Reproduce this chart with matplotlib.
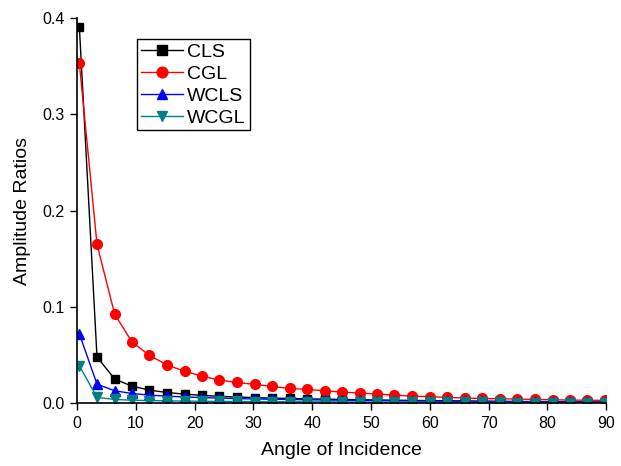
import matplotlib.pyplot as plt

plt.rcParams['font.family'] = ['Liberation Sans', 'DejaVu Sans']

# angle of incidence (deg)
angle = [0.4, 3.4, 6.4, 9.3, 12.3, 15.3, 18.3, 21.3, 24.2, 27.2,
         30.2, 33.2, 36.2, 39.1, 42.1, 45.1, 48.1, 51.1, 54.0, 57.0,
         60.0, 63.0, 66.0, 68.9, 71.9, 74.9, 77.9, 80.9, 83.8, 86.8, 89.8]

cls = [0.391, 0.048, 0.025, 0.0177, 0.0135, 0.011, 0.0093, 0.008, 0.007, 0.0063,
       0.0057, 0.0052, 0.0048, 0.0044, 0.0041, 0.0038, 0.0035, 0.0032, 0.003, 0.0028,
       0.0026, 0.0024, 0.0022, 0.002, 0.0019, 0.0017, 0.0016, 0.0015, 0.0013, 0.0012, 0.0011]
cgl = [0.353, 0.165, 0.0925, 0.064, 0.0495, 0.0398, 0.033, 0.028, 0.0239, 0.0215,
       0.0194, 0.0173, 0.0152, 0.0142, 0.0128, 0.0114, 0.0104, 0.0094, 0.0083, 0.0073,
       0.0066, 0.0059, 0.0052, 0.0048, 0.0045, 0.0042, 0.0038, 0.0035, 0.0031, 0.003, 0.0028]
wcls = [0.072, 0.0197, 0.0128, 0.010, 0.0083, 0.0072, 0.0064, 0.0057, 0.0052, 0.0047,
        0.0043, 0.004, 0.0037, 0.0034, 0.0032, 0.003, 0.0028, 0.0026, 0.0024, 0.0022,
        0.0021, 0.0019, 0.0018, 0.0017, 0.0015, 0.0014, 0.0013, 0.0012, 0.0011, 0.001, 0.0009]
wcgl = [0.0388, 0.0059, 0.0038, 0.003, 0.0026, 0.0023, 0.0021, 0.0019, 0.0018, 0.0017,
        0.0016, 0.0015, 0.0014, 0.0013, 0.0012, 0.0012, 0.0011, 0.001, 0.001, 0.0009,
        0.0009, 0.0008, 0.0008, 0.0007, 0.0007, 0.0006, 0.0006, 0.0005, 0.0005, 0.0005, 0.0004]

fig = plt.figure(figsize=(6.21, 4.66), dpi=100)
ax = fig.add_axes([0.124, 0.135, 0.852, 0.826])

ax.plot(angle, cls, color='black', marker='s', markersize=6, lw=1, label='CLS')
ax.plot(angle, cgl, color='red', marker='o', markersize=7, lw=1, label='CGL')
ax.plot(angle, wcls, color='blue', marker='^', markersize=7, lw=1, label='WCLS')
ax.plot(angle, wcgl, color='#008080', marker='v', markersize=7, lw=1, label='WCGL')

ax.set_xlim(0, 90)
ax.set_ylim(0, 0.4)
ax.set_xticks(range(0, 91, 10))
ax.set_yticks([0.0, 0.1, 0.2, 0.3, 0.4])
ax.set_yticklabels(['0.0', '0.1', '0.2', '0.3', '0.4'])
ax.tick_params(direction='out', length=5, width=1, labelsize=11.5, pad=4)
for s in ['top', 'right']:
    ax.spines[s].set_visible(False)
for s in ['left', 'bottom']:
    ax.spines[s].set_linewidth(1.2)

ax.set_xlabel('Angle of Incidence', fontsize=14, labelpad=8)
ax.set_ylabel('Amplitude Ratios', fontsize=14, labelpad=8)

leg = ax.legend(loc='upper left', bbox_to_anchor=(0.113, 0.945), fontsize=14,
                frameon=True, fancybox=False, edgecolor='black', framealpha=1,
                handlelength=2.2, handletextpad=0.2, borderpad=0.2, borderaxespad=0,
                labelspacing=0.22, markerscale=1.1)
leg.get_frame().set_linewidth(1)

fig.savefig('out.png', dpi=100)
